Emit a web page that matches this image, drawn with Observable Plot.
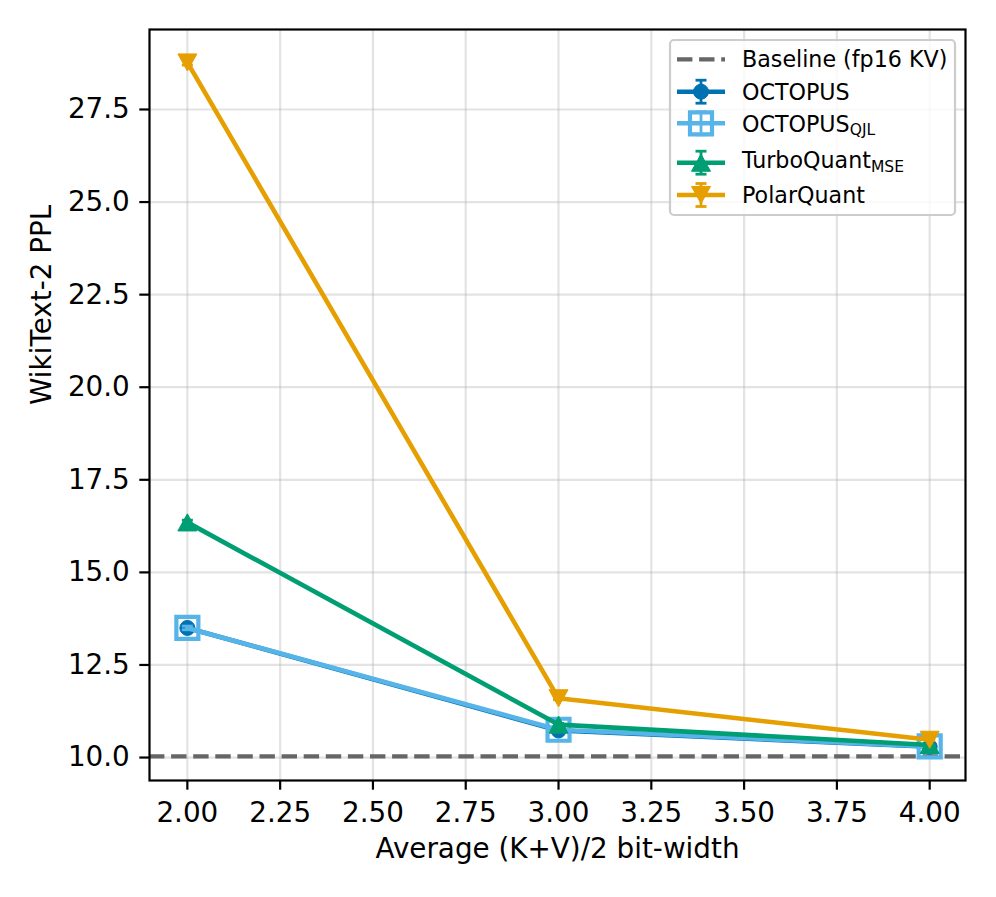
<!DOCTYPE html>
<html>
<head>
<meta charset="utf-8">
<script src="https://cdn.jsdelivr.net/npm/d3@7"></script>
<script src="https://cdn.jsdelivr.net/npm/@observablehq/plot@0.6"></script>
<style>
  html, body { margin: 0; padding: 0; background: #fff; }
  #chart svg { display: block; }
</style>
</head>
<body>
<div id="chart"></div>
<script>
// Average (K+V)/2 bit-width on the x axis
const bitWidths = [2, 3, 4];

// WikiText-2 perplexity per method, with small run-to-run error bars
const octopusPPL = [13.50, 10.73, 10.29];
const octopusErr = [0.05, 0.03, 0.01];
const octopusQjlPPL = [13.50, 10.75, 10.30];
const octopusQjlErr = [0.05, 0.03, 0.01];
const turboQuantPPL = [16.35, 10.89, 10.34];
const turboQuantErr = [0.06, 0.03, 0.01];
const polarQuantPPL = [28.77, 11.60, 10.48];
const polarQuantErr = [0.07, 0.04, 0.02];

// fp16 KV cache reference perplexity
const baselinePPL = 10.03;

const xTicks = [2.0, 2.25, 2.5, 2.75, 3.0, 3.25, 3.5, 3.75, 4.0];
const yTicks = [10.0, 12.5, 15.0, 17.5, 20.0, 22.5, 25.0, 27.5];

const xLabel = "Average (K+V)/2 bit-width";
const yLabel = "WikiText-2 PPL";
const baselineLabel = "Baseline (fp16 KV)";

// Custom marker shapes (size = r²·π as passed by Plot)
const rOf = (s) => Math.sqrt(s / Math.PI);
const circleSym = { draw(c, s) { const r = rOf(s); c.moveTo(r, 0); c.arc(0, 0, r, 0, 2 * Math.PI); } };
const squareSym = { draw(c, s) { const h = rOf(s); c.rect(-h, -h, 2 * h, 2 * h); } };
const triUpSym = { draw(c, s) { const h = rOf(s); c.moveTo(0, -h * 0.9); c.lineTo(h, h * 0.9); c.lineTo(-h, h * 0.9); c.closePath(); } };
const triDownSym = { draw(c, s) { const h = rOf(s); c.moveTo(0, h * 0.9); c.lineTo(h, -h * 0.9); c.lineTo(-h, -h * 0.9); c.closePath(); } };
const capSym = { draw(c, s) { const h = rOf(s); c.moveTo(-h, 0); c.lineTo(h, 0); } };

const series = [
  { name: "OCTOPUS", sub: null, values: octopusPPL, err: octopusErr, color: "#0072B2",
    symbol: circleSym, r: 7.5, hollow: false },
  { name: "OCTOPUS", sub: "QJL", values: octopusQjlPPL, err: octopusQjlErr, color: "#56B4E9",
    symbol: squareSym, r: 11, hollow: true },
  { name: "TurboQuant", sub: "MSE", values: turboQuantPPL, err: turboQuantErr, color: "#009E73",
    symbol: triUpSym, r: 9.5, hollow: false },
  { name: "PolarQuant", sub: null, values: polarQuantPPL, err: polarQuantErr, color: "#E69F00",
    symbol: triDownSym, r: 9.5, hollow: false }
];

const rows = (s) => bitWidths.map((b, i) => ({ x: b, y: s.values[i], e: s.err[i] }));

const LW = 4.6;     // series line width
const EW = 2.8;     // error bar width
const FS = 27.8;    // tick / axis label font size

const seriesMarks = series.flatMap((s) => {
  const data = rows(s);
  return [
    Plot.line(data, { x: "x", y: "y", stroke: s.color, strokeWidth: LW }),
    Plot.ruleX(data, { x: "x", y1: (d) => d.y - d.e, y2: (d) => d.y + d.e, stroke: s.color, strokeWidth: EW }),
    Plot.dot(data, { x: "x", y: (d) => d.y + d.e, symbol: capSym, r: 5.5, stroke: s.color, strokeWidth: EW }),
    Plot.dot(data, { x: "x", y: (d) => d.y - d.e, symbol: capSym, r: 5.5, stroke: s.color, strokeWidth: EW }),
    Plot.dot(data, {
      x: "x", y: "y", symbol: s.symbol, r: s.r,
      fill: s.hollow ? "none" : s.color,
      stroke: s.color, strokeWidth: s.hollow ? 4.2 : 1
    })
  ];
});

const chart = Plot.plot({
  width: 996,
  height: 897,
  marginLeft: 149,
  marginRight: 31,
  marginTop: 29,
  marginBottom: 117,
  style: { fontFamily: "DejaVu Sans", fontSize: FS + "px", background: "#fff", color: "#000" },
  x: { domain: [1.898, 4.0965], axis: null },
  y: { domain: [9.38, 29.66], axis: null },
  marks: [
    Plot.gridX(xTicks, { stroke: "#b0b0b0", strokeOpacity: 0.35, strokeWidth: 2.2 }),
    Plot.gridY(yTicks, { stroke: "#b0b0b0", strokeOpacity: 0.35, strokeWidth: 2.2 }),
    Plot.ruleY([baselinePPL], { stroke: "#666", strokeWidth: 4.2, strokeDasharray: "15.4,6.7" }),
    ...seriesMarks,
    Plot.frame({ stroke: "#000", strokeWidth: 2.2 }),
    Plot.axisX(xTicks, {
      tickSize: 9.7, tickPadding: 12, strokeWidth: 2.2, fontSize: FS,
      tickFormat: d3.format(".2f"), label: null
    }),
    Plot.axisY(yTicks, {
      tickSize: 9.7, tickPadding: 10, strokeWidth: 2.2, fontSize: FS,
      tickFormat: d3.format(".1f"), label: null
    }),
    Plot.text([xLabel], { frameAnchor: "bottom", dy: 77, lineAnchor: "bottom", fontSize: FS, text: (d) => d }),
    Plot.text([yLabel], { frameAnchor: "left", dx: -99, rotate: -90, lineAnchor: "bottom", fontSize: FS, text: (d) => d })
  ]
});

document.getElementById("chart").appendChild(chart);

// Legend box in the upper-right corner of the axes
const svg = d3.select(chart);
const lg = svg.append("g")
  .attr("font-family", "DejaVu Sans")
  .attr("font-size", 22.2)
  .attr("text-anchor", "start")
  .style("text-anchor", "start");
lg.append("rect")
  .attr("x", 670).attr("y", 40).attr("width", 285).attr("height", 175)
  .attr("rx", 4).attr("fill", "#fff").attr("fill-opacity", 0.8)
  .attr("stroke", "#cccccc").attr("stroke-width", 2.2);

const hx0 = 677, hx1 = 725, hxc = 701, tx = 742;

// Baseline entry
lg.append("line").attr("x1", hx0).attr("x2", hx1).attr("y1", 59.3).attr("y2", 59.3)
  .attr("stroke", "#666").attr("stroke-width", 4.2).attr("stroke-dasharray", "15.4,6.7");
lg.append("text").attr("x", tx).attr("y", 66.7).attr("text-anchor", "start").text(baselineLabel);

const handleY = [91.7, 123.3, 162.7, 195];
const textY = [100, 131.7, 168.3, 203.3];
series.forEach((s, i) => {
  const y = handleY[i];
  const g = lg.append("g");
  g.append("line").attr("x1", hx0).attr("x2", hx1).attr("y1", y).attr("y2", y)
    .attr("stroke", s.color).attr("stroke-width", LW);
  g.append("line").attr("x1", hxc).attr("x2", hxc).attr("y1", y - 11.5).attr("y2", y + 11.5)
    .attr("stroke", s.color).attr("stroke-width", EW);
  [y - 11.5, y + 11.5].forEach((cy) => g.append("line")
    .attr("x1", hxc - 5.5).attr("x2", hxc + 5.5).attr("y1", cy).attr("y2", cy)
    .attr("stroke", s.color).attr("stroke-width", EW));
  g.append("path")
    .attr("transform", `translate(${hxc},${y})`)
    .attr("d", d3.symbol(s.symbol, s.r * s.r * Math.PI)())
    .attr("fill", s.hollow ? "none" : s.color)
    .attr("stroke", s.color).attr("stroke-width", s.hollow ? 4.2 : 1);
  const t = lg.append("text").attr("x", tx).attr("y", textY[i]).attr("text-anchor", "start");
  t.append("tspan").text(s.name);
  if (s.sub) t.append("tspan").attr("font-size", 15.5).attr("dy", 3.6).text(s.sub);
});
</script>
</body>
</html>
